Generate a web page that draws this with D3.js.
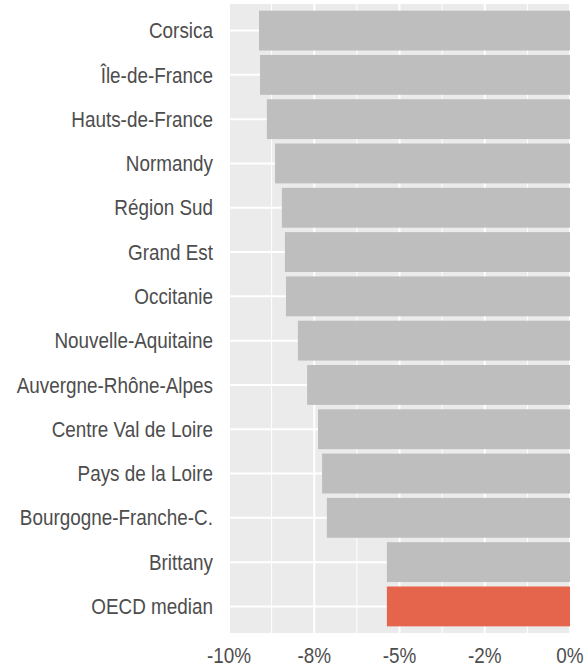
<!DOCTYPE html>
<html>
<head>
<meta charset="utf-8">
<script src="https://cdn.jsdelivr.net/npm/d3@7"></script>
<style>
  body { margin: 0; background: #fff; }
  text { font-family: "Liberation Sans", Arial, sans-serif; fill: #4d4d4d; }
</style>
</head>
<body>
<div id="chart"></div>
<script>
// regions, top to bottom
const regions = ["Corsica", "Île-de-France", "Hauts-de-France", "Normandy", "Région Sud",
  "Grand Est", "Occitanie", "Nouvelle-Aquitaine", "Auvergne-Rhône-Alpes",
  "Centre Val de Loire", "Pays de la Loire", "Bourgogne-Franche-C.", "Brittany", "OECD median"];
// change in %
const changes = [-9.12, -9.09, -8.89, -8.65, -8.45, -8.36, -8.33, -7.98, -7.71,
  -7.39, -7.27, -7.13, -5.37, -5.37];
const tickValues = [-10, -7.5, -5, -2.5, 0];
const tickLabels = ["-10%", "-8%", "-5%", "-2%", "0%"];
const minorTicks = [-8.75, -6.25, -3.75, -1.25];

var width = 588, height = 668;
var panel = { left: 229, right: 570, top: 4, bottom: 633 };

var svg = d3.select('#chart')
  .append('svg')
  .attr('width', width)
  .attr('height', height);

var x = d3.scaleLinear().domain([-10, 0]).range([panel.left, panel.right]);
var y = d3.scalePoint().domain(regions).range([panel.top, panel.bottom]).padding(0.6);
var barH = y.step() * 0.9;

// panel background
svg.append('rect')
  .attr('x', panel.left).attr('y', panel.top)
  .attr('width', panel.right - panel.left)
  .attr('height', panel.bottom - panel.top)
  .attr('fill', '#ebebeb');

// grid
svg.selectAll('.minor').data(minorTicks).enter().append('line')
  .attr('x1', d => x(d)).attr('x2', d => x(d))
  .attr('y1', panel.top).attr('y2', panel.bottom)
  .attr('stroke', '#fff').attr('stroke-width', 1);
svg.selectAll('.major').data(tickValues).enter().append('line')
  .attr('x1', d => x(d)).attr('x2', d => x(d))
  .attr('y1', panel.top).attr('y2', panel.bottom)
  .attr('stroke', '#fff').attr('stroke-width', 2);
svg.selectAll('.hgrid').data(regions).enter().append('line')
  .attr('x1', panel.left).attr('x2', panel.right)
  .attr('y1', d => y(d)).attr('y2', d => y(d))
  .attr('stroke', '#fff').attr('stroke-width', 2);

// bars
svg.selectAll('.bar').data(regions).enter().append('rect')
  .attr('x', (d, i) => x(changes[i]))
  .attr('y', d => y(d) - barH / 2)
  .attr('width', (d, i) => x(0) - x(changes[i]))
  .attr('height', barH)
  .attr('fill', d => d === "OECD median" ? '#e5654c' : '#bebebe');

// category labels (text in the reference is slightly condensed)
svg.selectAll('.ylab').data(regions).enter().append('text')
  .attr('transform', d => `translate(213, ${y(d)}) scale(0.84, 1)`)
  .attr('dy', '0.34em')
  .attr('text-anchor', 'end')
  .style('font-size', '22.5px')
  .text(d => d);

// x tick labels
svg.selectAll('.xlab').data(tickValues).enter().append('text')
  .attr('transform', d => `translate(${x(d)}, 663) scale(0.84, 1)`)
  .attr('text-anchor', 'middle')
  .style('font-size', '22.5px')
  .text((d, i) => tickLabels[i]);
</script>
</body>
</html>
